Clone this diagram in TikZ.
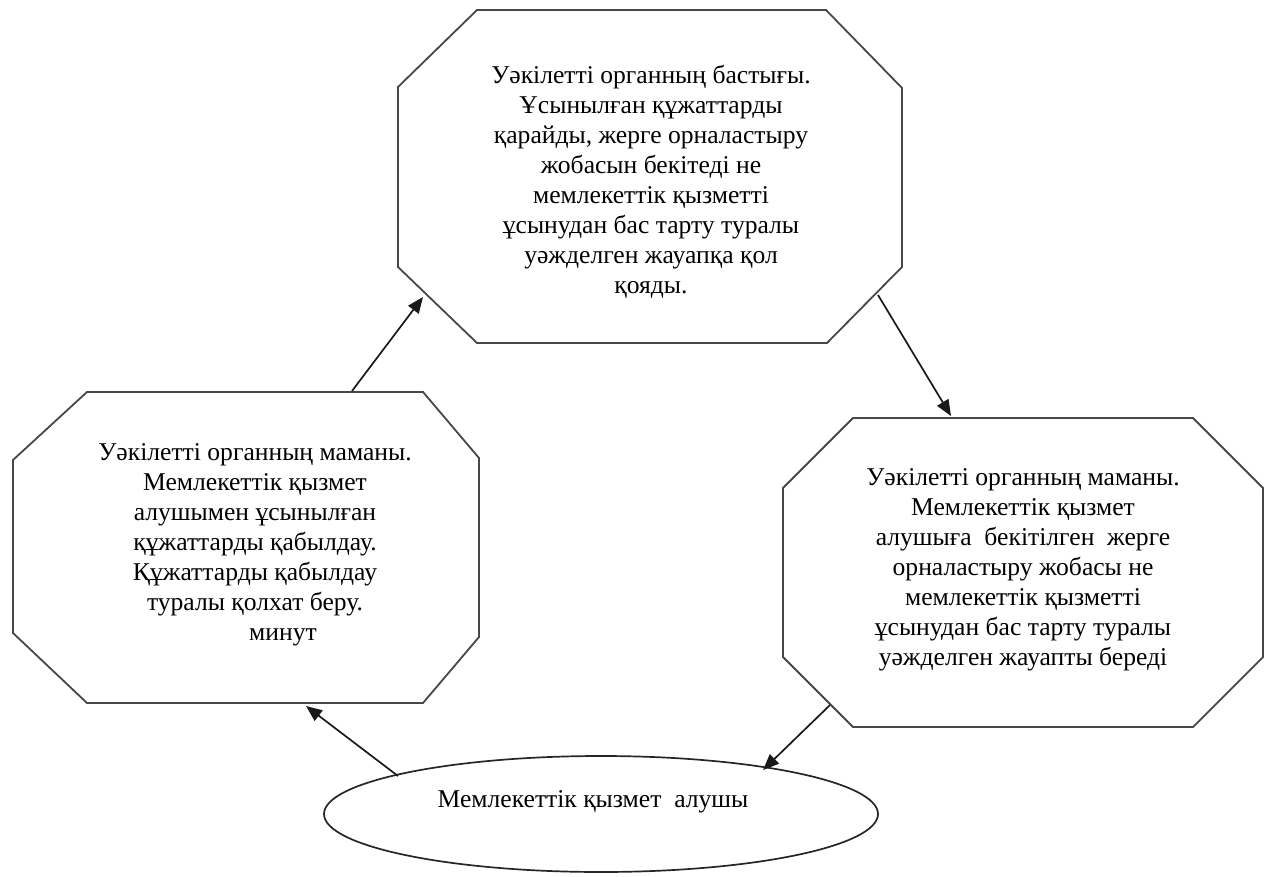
\documentclass[tikz,border=0pt]{standalone}
\usepackage{fontspec}
\newfontfamily\kzfont{Liberation Serif}
\usetikzlibrary{arrows.meta,shapes.geometric}
\begin{document}
\begin{tikzpicture}[x=1pt,y=-1pt,
  oct/.style={draw=black!72,line width=1.8pt},
  txt/.style={align=center,font=\kzfont\fontsize{25.6}{30}\selectfont,inner sep=0pt},
  conn/.style={draw=black!90,line width=1.7pt,-{Triangle[length=16pt,width=13pt]}}]
\useasboundingbox (0,0) rectangle (1265,877);
% octagons
\draw[oct] (477,10) -- (826,10) -- (902,88) -- (902,267) -- (827,343) -- (477,343) -- (398,267) -- (398,87) -- cycle;
\draw[oct] (87,392) -- (423,392) -- (479,458) -- (479,637) -- (423,703) -- (87,703) -- (13,633) -- (13,460) -- cycle;
\draw[oct] (853,418) -- (1193,418) -- (1263,488) -- (1263,657) -- (1193,727) -- (853,727) -- (783,657) -- (783,488) -- cycle;
% texts
\node[txt] (head) at (651,182) {Уәкілетті органның бастығы.\\Ұсынылған құжаттарды\\қарайды, жерге орналастыру\\жобасын бекітеді не\\мемлекеттік қызметті\\ұсынудан бас тарту туралы\\уәжделген жауапқа қол\\қояды.};
\node[txt] (spec1) at (255,545) {Уәкілетті органның маманы.\\Мемлекеттік қызмет\\алушымен ұсынылған\\құжаттарды қабылдау.\\Құжаттарды қабылдау\\туралы қолхат беру.\\\hspace*{56pt}минут};
\node[txt] (spec2) at (1023,570) {Уәкілетті органның маманы.\\Мемлекеттік қызмет\\алушыға\ \ бекітілген\ \ жерге\\орналастыру жобасы не\\мемлекеттік қызметті\\ұсынудан бас тарту туралы\\уәжделген жауапты береді};
\node[draw=black!85,ellipse,line width=1.7pt,minimum width=554pt,minimum height=116pt,inner sep=0pt] (client) at (601,814) {};
\node[txt] (clienttext) at (593,802) {Мемлекеттік қызмет\ \ алушы};
% connector ends
\coordinate (a1s) at (352,391); \coordinate (a1e) at (423,297);
\coordinate (a2s) at (878,295); \coordinate (a2e) at (951,416);
\coordinate (a3s) at (830,705); \coordinate (a3e) at (763,770);
\coordinate (a4s) at (398,776); \coordinate (a4e) at (306,706);
\draw[conn] (a1s) -- (a1e);
\draw[conn] (a2s) -- (a2e);
\draw[conn] (a3s) -- (a3e);
\draw[conn] (a4s) -- (a4e);
\end{tikzpicture}
\end{document}
